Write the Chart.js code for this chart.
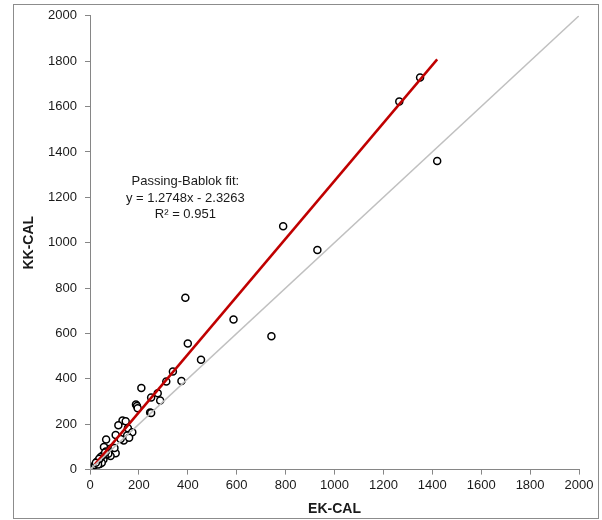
<!DOCTYPE html>
<html>
<head>
<meta charset="utf-8">
<script src="https://cdn.jsdelivr.net/npm/chart.js@4.4.1/dist/chart.umd.min.js"></script>
<style>
  html, body { margin: 0; padding: 0; background: #fff; }
  #wrap { position: relative; width: 602px; height: 520px; }
  #frame { position: absolute; left: 13px; top: 4px; width: 584px; height: 513px; border: 1px solid #8c8c8c; pointer-events: none; }
</style>
</head>
<body>
<div id="wrap">
  <canvas id="chart" width="602" height="520"></canvas>
  <div id="frame"></div>
</div>
<script>
// ===== DATA =====
const ekCal = [1420, 1350, 1265, 790, 930, 742, 587, 390, 400, 454, 339, 374, 312, 210, 277, 250, 287,
  188, 192, 195, 246, 250, 133, 146, 116, 155, 173, 152, 138, 105, 66, 105, 84, 90, 68, 57, 160, 125,
  75, 60, 50, 45, 40, 35, 30, 25, 20, 40, 55, 48, 35, 65, 100, 28, 52, 44, 33, 38, 62, 24];
const kkCal = [1360, 1728, 1622, 1072, 968, 588, 662, 757, 556, 484, 432, 391, 388, 360, 336, 318, 305,
  287, 280, 270, 252, 250, 216, 213, 195, 182, 165, 150, 128, 152, 133, 72, 60, 95, 92, 100, 140, 135,
  70, 60, 50, 40, 35, 30, 28, 25, 20, 25, 45, 30, 40, 80, 95, 35, 62, 55, 22, 48, 75, 30];
const axisTicks = [0, 200, 400, 600, 800, 1000, 1200, 1400, 1600, 1800, 2000];
const fitSlope = 1.2748;
const fitIntercept = -2.3263;
const fitLabel = ['Passing-Bablok fit:', 'y = 1.2748x - 2.3263', 'R\u00b2 = 0.951'];

const points = ekCal.map((x, i) => ({ x: x, y: kkCal[i] }));
const xMin = Math.min(...ekCal), xMax = Math.max(...ekCal);
const fitLine = [xMin, xMax].map(x => ({ x: x, y: fitSlope * x + fitIntercept }));
const identity = [{ x: axisTicks[0], y: axisTicks[0] }, { x: axisTicks[axisTicks.length - 1], y: axisTicks[axisTicks.length - 1] }];

// ===== ANNOTATION =====
const fitText = {
  id: 'fitText',
  afterDatasetsDraw(chart) {
    const { ctx, scales } = chart;
    const cx = scales.x.getPixelForValue(390);
    const y0 = scales.y.getPixelForValue(1268);
    ctx.save();
    ctx.font = '13px "Liberation Sans", Arial, sans-serif';
    ctx.fillStyle = '#1a1a1a';
    ctx.textAlign = 'center';
    ctx.textBaseline = 'middle';
    fitLabel.forEach((t, i) => ctx.fillText(t, cx, y0 + i * 16.5));
    ctx.restore();
  }
};

const tickFont = { family: '"Liberation Sans", Arial, sans-serif', size: 13 };
const titleFont = { family: '"Liberation Sans", Arial, sans-serif', size: 14, weight: 'bold' };
const gridOpts = { drawOnChartArea: false, drawTicks: true, tickLength: 5, color: '#868686' };
const plainTick = v => String(v);

new Chart(document.getElementById('chart'), {
  type: 'scatter',
  data: {
    datasets: [{
      data: identity,
      showLine: true,
      borderColor: '#c0c0c0',
      borderWidth: 1.5,
      pointRadius: 0
    }, {
      data: fitLine,
      showLine: true,
      borderColor: '#c00000',
      borderWidth: 2.5,
      pointRadius: 0
    }, {
      data: points,
      pointRadius: 3.5,
      pointBorderWidth: 1.5,
      pointBorderColor: '#000',
      pointBackgroundColor: '#fff'
    }]
  },
  options: {
    responsive: false,
    animation: false,
    layout: { padding: { left: 15, right: 23, top: 13, bottom: 0 } },
    plugins: { legend: { display: false }, tooltip: { enabled: false } },
    scales: {
      x: {
        type: 'linear', min: 0, max: 2000,
        afterBuildTicks: s => { s.ticks = axisTicks.map(v => ({ value: v })); },
        ticks: { font: tickFont, color: '#1a1a1a', padding: 3, maxRotation: 0, callback: plainTick },
        grid: gridOpts,
        border: { color: '#868686', width: 1 },
        title: { display: true, text: 'EK-CAL', font: titleFont, color: '#1a1a1a', padding: { top: 5, bottom: 2 } }
      },
      y: {
        type: 'linear', min: 0, max: 2000,
        afterBuildTicks: s => { s.ticks = axisTicks.map(v => ({ value: v })); },
        afterFit: s => { s.width = 75; },
        ticks: { font: tickFont, color: '#1a1a1a', padding: 8, callback: plainTick },
        grid: gridOpts,
        border: { color: '#868686', width: 1 },
        title: { display: true, text: 'KK-CAL', font: titleFont, color: '#1a1a1a', padding: { top: 6, bottom: 4 } }
      }
    }
  },
  plugins: [fitText]
});
</script>
</body>
</html>
